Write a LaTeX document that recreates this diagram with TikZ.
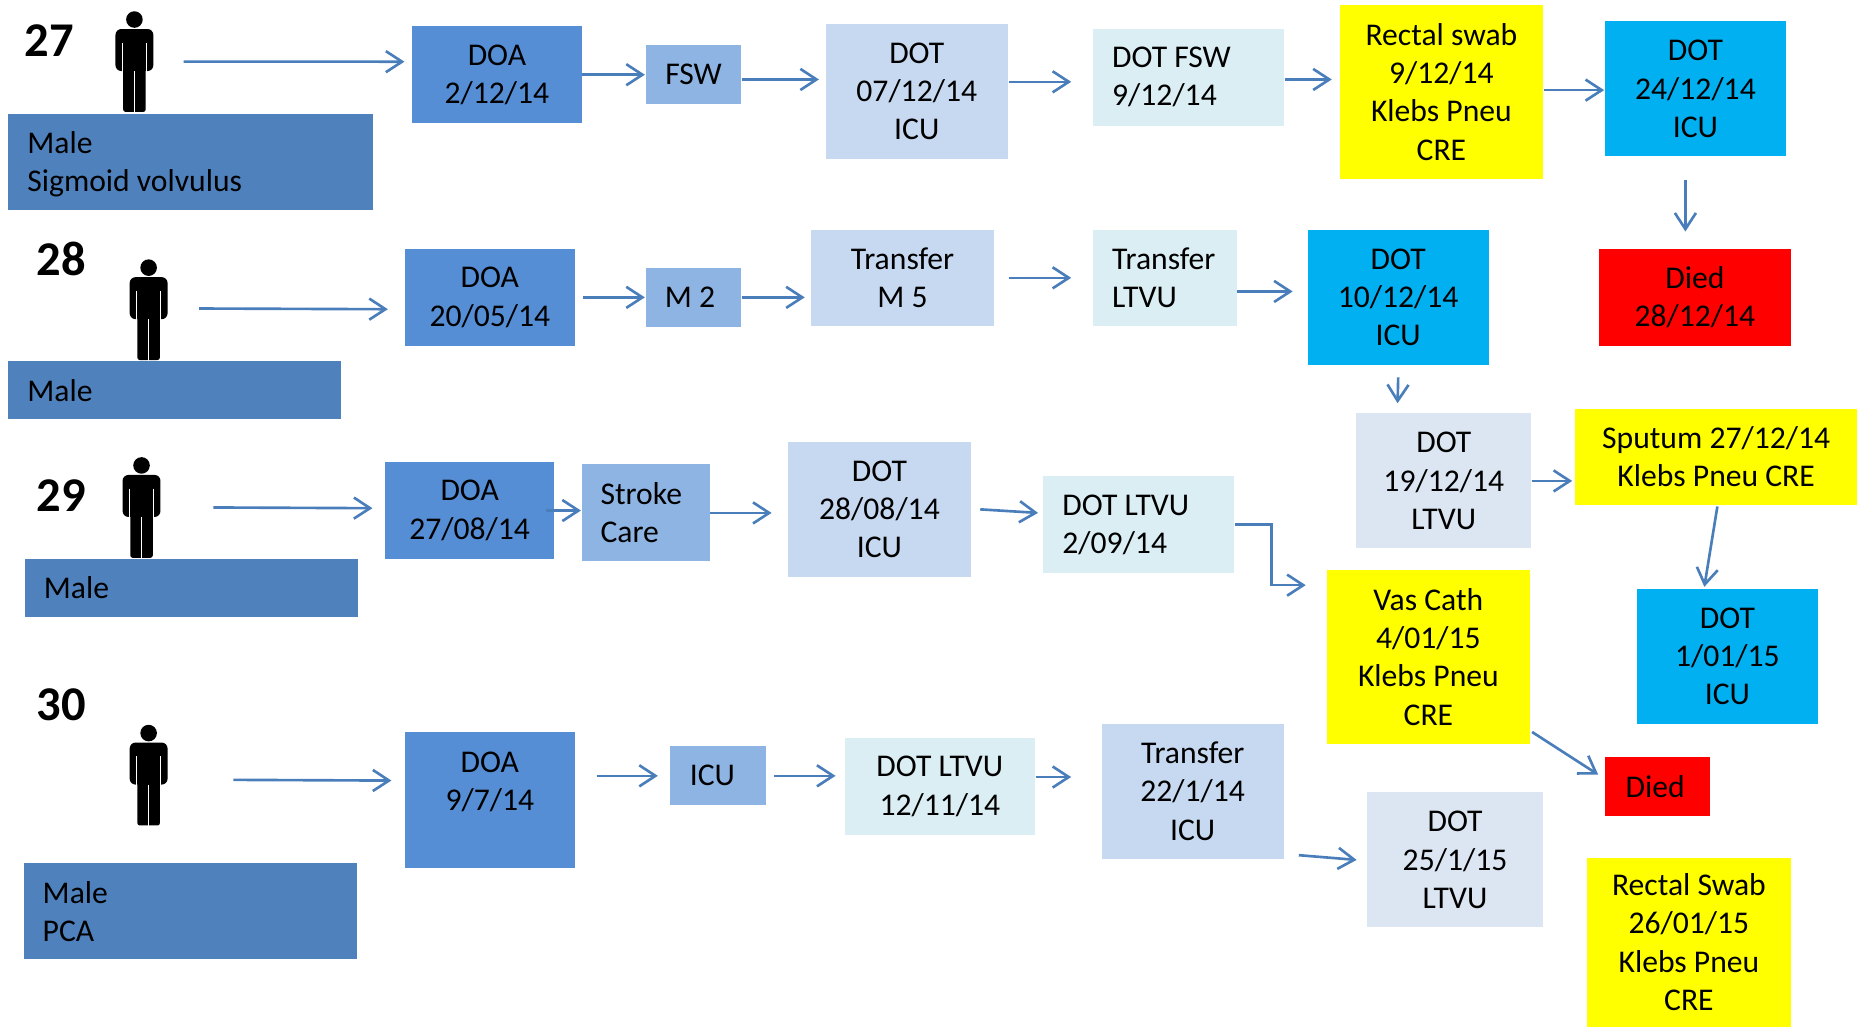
\documentclass[tikz,border=0pt]{standalone}
\usepackage{fontspec}
\setmainfont{Carlito}
\usetikzlibrary{arrows.meta}
\definecolor{maleBlue}{HTML}{4F81BD}
\definecolor{doaBlue}{HTML}{558ED5}
\definecolor{wardBlue}{HTML}{8EB4E3}
\definecolor{dotBlue}{HTML}{C6D9F1}
\definecolor{dotPale}{HTML}{DBEEF4}
\definecolor{dotGrey}{HTML}{DCE6F2}
\definecolor{icuBlue}{HTML}{00B0F0}
\definecolor{swabYellow}{HTML}{FFFF00}
\definecolor{diedRed}{HTML}{FF0000}
\definecolor{arrowBlue}{HTML}{4A7EBB}
\newlength\px
\setlength\px{0.118431mm}

\begin{document}
\begin{tikzpicture}[
    x=\px, y=-\px,
    box/.style 2 args={anchor=north west, inner sep=0pt, align=center, minimum width=#1*\px, minimum height=#2*\px, font=\fontsize{9}{10.9}\selectfont},
    lbox/.style 2 args={anchor=north west, inner ysep=0pt, inner xsep=16*\px, align=flush left, text width=(#1-32)*\px, minimum height=#2*\px, font=\fontsize{9}{10.9}\selectfont},
    num/.style={font=\fontsize{13.8}{15}\selectfont\bfseries, inner sep=0pt},
    personbox/.style={inner sep=0pt, minimum width=33*\px, minimum height=85*\px},
    arr/.style={-{Straight Barb[length=4.6pt,width=6pt]}, line width=0.75pt, arrowBlue},
    person/.pic={
        \fill (0,-35.5) circle (7);
        \fill[rounded corners=5*\px] (-16,8) -- (-16,-27.5) -- (16,-27.5) -- (16,8) -- cycle;
        \fill[rounded corners=2*\px] (-9.5,0) rectangle (9.5,42.5);
        \draw[white, line width=0.35pt] (-10.2,-16) -- (-10.2,9) (10.2,-16) -- (10.2,9) (0,8) -- (0,43);
    },
]
    \useasboundingbox (0.5,0.5) rectangle (1568.5,867.5);

    % row 27
    \node[num] (n27) at (42,35) {27};
    \node[personbox] (person27) at (114,52.5) {};
    \pic at (person27) {person};
    \node[lbox={308}{81}, fill=maleBlue] (male27) at (7,96) {Male\\\raisebox{0pt}[\height][0pt]{Sigmoid volvulus}};
    \node[box={143}{82}, fill=doaBlue] (doa27) at (348,22) {DOA\\2/12/14};
    \node[box={81}{50}, fill=wardBlue] (fsw) at (545,38) {FSW};
    \node[box={154}{114}, fill=dotBlue] (dot07) at (697,20) {DOT\\07/12/14\\ICU};
    \node[lbox={161}{82}, fill=dotPale] (dotfsw) at (923,24) {DOT FSW\\9/12/14};
    \node[box={172}{147}, fill=swabYellow] (rectal09) at (1131,4) {Rectal swab\\9/12/14\\Klebs Pneu\\CRE};
    \node[box={153}{114}, fill=icuBlue] (dot24) at (1355,18) {DOT\\24/12/14\\ICU};
    \node[box={162}{82}, fill=diedRed] (died28) at (1350,210) {Died\\28/12/14};

    % row 28
    \node[num] (n28) at (52,219) {28};
    \node[personbox] (person28) at (126,262) {};
    \pic at (person28) {person};
    \node[lbox={281}{49}, fill=maleBlue] (male28) at (7,305) {Male};
    \node[box={143}{82}, fill=doaBlue] (doa20) at (342,210) {DOA\\20/05/14};
    \node[box={81}{50}, fill=wardBlue] (m2) at (545,226) {M 2\hspace*{6\px}};
    \node[box={154}{81}, fill=dotBlue] (m5) at (685,194) {Transfer\\M 5};
    \node[lbox={121}{81}, fill=dotPale] (ltvu28) at (923,194) {Transfer\\LTVU};
    \node[box={153}{114}, fill=icuBlue] (dot10) at (1104,194) {DOT\\10/12/14\\ICU};
    \node[box={148}{114}, fill=dotGrey] (dot19) at (1145,349) {DOT\\19/12/14\\LTVU};
    \node[box={238}{81}, fill=swabYellow] (sputum) at (1330,345) {Sputum 27/12/14\\Klebs Pneu CRE};

    % row 29
    \node[num] (n29) at (52,419) {29};
    \node[personbox] (person29) at (120,429) {};
    \pic at (person29) {person};
    \node[lbox={281}{49}, fill=maleBlue] (male29) at (21,472) {Male};
    \node[box={143}{82}, fill=doaBlue] (doa27b) at (325,390) {DOA\\27/08/14};
    \node[lbox={108}{82}, fill=wardBlue] (stroke) at (491,392) {Stroke\\Care};
    \node[box={155}{114}, fill=dotBlue] (dot28) at (665,373) {DOT\\28/08/14\\ICU};
    \node[lbox={161}{82}, fill=dotPale] (ltvu02) at (881,402) {DOT LTVU\\2/09/14};
    \node[box={172}{147}, fill=swabYellow] (vascath) at (1120,481) {Vas Cath\\4/01/15\\Klebs Pneu\\CRE};
    \node[box={153}{114}, fill=icuBlue] (dot01) at (1382,497) {DOT\\1/01/15\\ICU};
    \node[box={89}{50}, fill=diedRed] (died) at (1355,639) {Died\hspace*{4\px}};

    % row 30
    \node[num] (n30) at (52,596) {30};
    \node[personbox] (person30) at (126,655) {};
    \pic at (person30) {person};
    \node[lbox={281}{81}, fill=maleBlue] (male30) at (20,729) {Male\\PCA};
    \node[box={143}{115}, fill=doaBlue] (doa09) at (342,618) {DOA\\9/7/14\\\mbox{}};
    \node[box={81}{50}, fill=wardBlue] (icu) at (566,630) {ICU\hspace*{10\px}};
    \node[box={161}{82}, fill=dotPale] (ltvu12) at (713,623) {DOT LTVU\\12/11/14};
    \node[box={154}{114}, fill=dotBlue] (trans22) at (930,611) {Transfer\\22/1/14\\ICU};
    \node[box={149}{114}, fill=dotGrey] (dot25) at (1154,669) {DOT\\25/1/15\\LTVU};
    \node[box={172}{143}, fill=swabYellow] (rectal26) at (1340,724) {Rectal Swab\\26/01/15\\Klebs Pneu\\CRE};

    \draw[arr] ([shift={(24.5,0)}]person27.east) -- ([shift={(-6,-11)}]doa27.west);
    \draw[arr] (doa27.east) -- (fsw.west);
    \draw[arr] ([yshift=-4*\px]fsw.east) -- ([shift={(-5,-10)}]dot07.west);
    \draw[arr] ([shift={(0,-8)}]dot07.east) -- ([shift={(-18,4)}]dotfsw.west);
    \draw[arr] ([shift={(0,2)}]dotfsw.east) -- ([shift={(-6,-10.5)}]rectal09.west);
    \draw[arr] ([shift={(0,-1.5)}]rectal09.east) -- ([shift={(0,1)}]dot24.west);
    \draw[arr] ([shift={(-8.5,19)}]dot24.south) -- ([shift={(-8,-14)}]died28.north);

    \draw[arr] ([shift={(25.5,-1)}]person28.east) -- ([shift={(-14,10)}]doa20.west);
    \draw[arr] ([shift={(7,0)}]doa20.east) -- (m2.west);
    \draw[arr] (m2.east) -- ([shift={(-5,16.5)}]m5.west);
    \draw[arr] ([shift={(12,0)}]m5.east) -- ([shift={(-18,0)}]ltvu28.west);
    \draw[arr] ([shift={(0,11.5)}]ltvu28.east) -- ([shift={(-12,-5)}]dot10.west);
    \draw[arr] ([shift={(0,10)}]dot10.south) -- ([shift={(-39,-8)}]dot19.north);
    \draw[arr] (dot19.east) -- ([shift={(-2,20.5)}]sputum.west);
    \draw[arr] ([shift={(1,1)}]sputum.south) -- ([shift={(-19.5,-1)}]dot01.north);

    \draw[arr] ([shift={(43.5,0)}]person29.east) -- ([shift={(-10,-2)}]doa27b.west);
    \draw[arr] ([shift={(-8,0)}]doa27b.east) -- ([shift={(0,-2)}]stroke.west);
    \draw[arr] (stroke.east) -- ([shift={(-13,3)}]dot28.west);
    \draw[arr] ([shift={(7,0)}]dot28.east) -- ([shift={(-4,-10)}]ltvu02.west);
    \draw[arr] (ltvu02.east) -- ++(31,0) |- ([shift={(-17,-60.5)}]vascath.west);
    \draw[arr] ([shift={(1,63.5)}]vascath.east) -- ([shift={(-5,-10)}]died.west);

    \draw[arr] ([shift={(54.5,4)}]person30.east) -- ([shift={(-11,-16.5)}]doa09.west);
    \draw[arr] ([shift={(18,-20.5)}]doa09.east) -- ([shift={(-10,0)}]icu.west);
    \draw[arr] ([shift={(6,0)}]icu.east) -- ([shift={(-7,-9)}]ltvu12.west);
    \draw[arr] ([shift={(0,-8)}]ltvu12.east) -- ([shift={(-25,-12)}]trans22.west);
    \draw[arr] ([shift={(12,54)}]trans22.east) -- ([shift={(-8,0)}]dot25.west);
\end{tikzpicture}
\end{document}
